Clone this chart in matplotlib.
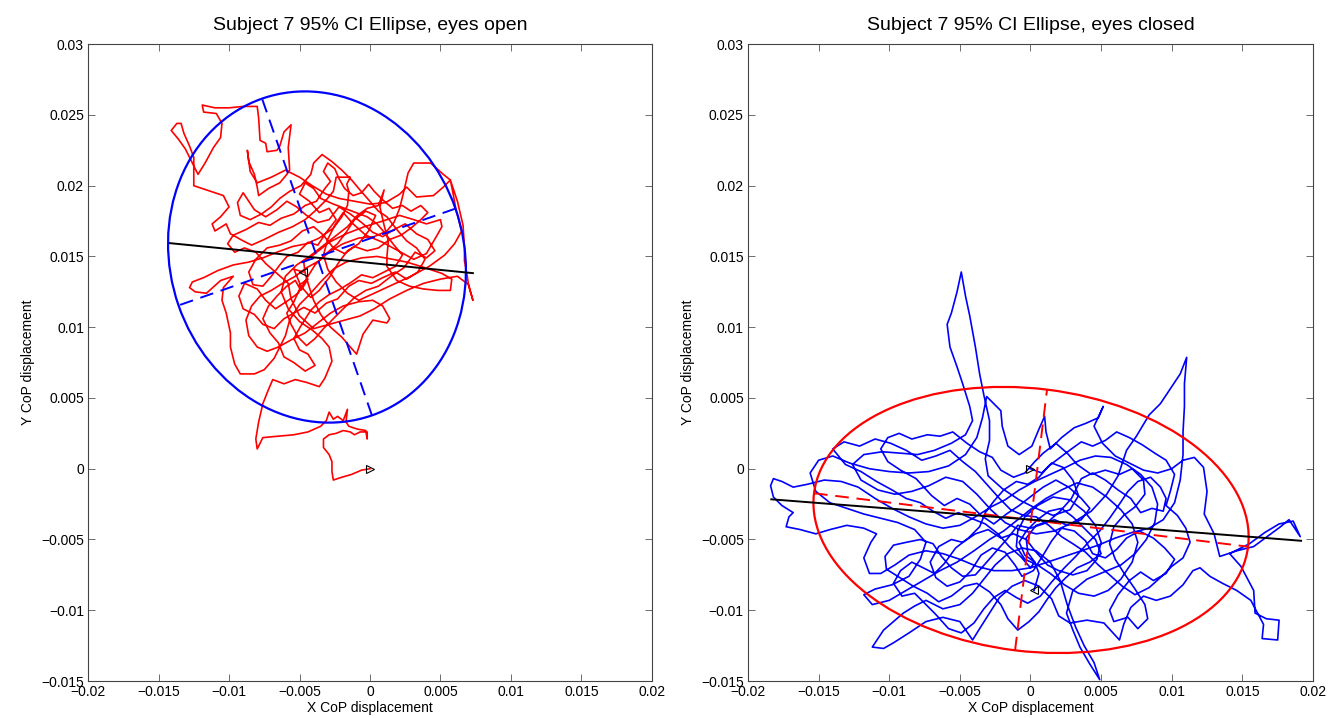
"""
CoP sway paths with 95% CI ellipses, eyes open vs eyes closed.
Values read off the reference figure, kept in mm and plotted in metres.
"""
import numpy as np
import matplotlib
matplotlib.use('Agg')
import matplotlib.pyplot as plt
from matplotlib.patches import Ellipse

plt.rcParams['font.family'] = ['Liberation Sans', 'DejaVu Sans']

MM = 1e-3  # values below are in mm

# ---- eyes open: CoP path (x, y) in mm ----
open_path = [
    (0.0, 0.0), (-0.6, -0.1), (-1.3, -0.4), (-2.0, -0.6), (-2.6, -0.8), (-2.7, -0.2),
    (-2.7, 0.5), (-2.9, 1.0), (-3.3, 1.5), (-3.3, 2.1), (-2.9, 2.4), (-2.4, 2.5),
    (-1.9, 2.7), (-1.4, 2.6), (-1.1, 2.4), (-0.7, 2.6), (-0.2, 2.6), (-0.2, 2.1),
    (-0.3, 2.7), (-0.9, 2.8), (-1.5, 3.0), (-1.7, 3.3), (-1.6, 4.2), (-1.9, 3.4),
    (-2.3, 3.7), (-2.6, 3.5), (-2.9, 4.0), (-3.1, 3.4), (-3.5, 3.0), (-4.4, 2.6),
    (-5.4, 2.4), (-6.5, 2.3), (-7.6, 2.2), (-8.0, 1.4), (-8.1, 2.1), (-7.9, 3.3),
    (-7.6, 4.6), (-7.2, 5.6), (-6.9, 6.3), (-6.1, 6.0), (-5.3, 6.3), (-4.5, 6.1),
    (-3.6, 5.8), (-3.2, 6.4), (-2.7, 7.6), (-2.9, 8.6), (-3.4, 9.2), (-4.1, 9.8),
    (-5.0, 10.4), (-5.8, 11.3), (-6.3, 12.5), (-6.0, 13.6), (-5.2, 14.4), (-4.3, 15.0),
    (-3.4, 15.7), (-2.5, 16.4), (-1.6, 17.1), (-0.9, 17.9), (-0.2, 18.4), (0.6, 18.6),
    (1.0, 19.7), (0.7, 18.5), (1.0, 17.2), (1.3, 16.1), (1.2, 15.0), (1.2, 14.3),
    (1.9, 13.3), (2.8, 12.9), (3.8, 12.7), (4.8, 12.6), (5.7, 12.6), (5.8, 13.4),
    (5.1, 13.8), (4.5, 14.0), (3.6, 14.3), (2.6, 14.6), (1.6, 14.8), (0.5, 15.0),
    (-0.6, 14.9), (-1.7, 14.6), (-2.6, 14.1), (-3.5, 13.2), (-4.3, 12.3), (-5.0, 11.6),
    (-5.7, 10.5), (-6.0, 9.4), (-6.4, 8.6), (-6.8, 7.8), (-7.5, 7.0), (-8.2, 6.7),
    (-9.2, 6.7), (-9.6, 7.4), (-9.9, 8.6), (-9.9, 9.6), (-10.2, 11.0), (-10.5, 11.9),
    (-10.4, 12.8), (-9.7, 13.6), (-10.6, 13.3), (-11.6, 12.4), (-12.4, 12.5), (-12.8, 12.8),
    (-12.6, 13.2), (-11.8, 13.5), (-10.8, 14.0), (-9.7, 14.4), (-8.6, 14.6), (-7.6, 14.9),
    (-6.6, 15.3), (-5.5, 15.7), (-4.5, 15.9), (-3.6, 16.3), (-2.6, 17.0), (-2.0, 17.8),
    (-1.6, 18.6), (-1.5, 19.6), (-1.65, 20.1), (-1.4, 20.6), (-1.8, 20.6), (-2.4, 20.6),
    (-2.6, 19.6), (-3.1, 19.0), (-3.8, 18.3), (-4.6, 17.6), (-5.5, 17.1), (-6.5, 16.7),
    (-7.5, 16.2), (-8.4, 15.8), (-9.0, 16.1), (-9.9, 16.6), (-10.2, 17.3), (-11.0, 16.8),
    (-11.2, 17.3), (-10.6, 17.8), (-10.0, 18.5), (-10.4, 19.3), (-11.6, 19.7), (-12.5, 20.0),
    (-12.5, 21.0), (-12.5, 22.0), (-12.8, 22.8), (-13.2, 23.7), (-13.4, 24.4), (-13.7, 24.4),
    (-14.1, 23.9), (-13.6, 23.3), (-13.1, 22.6), (-12.6, 21.6), (-12.2, 20.8), (-11.7, 21.6),
    (-11.1, 22.7), (-10.6, 23.4), (-10.5, 24.4), (-10.9, 25.1), (-11.8, 25.2), (-11.9, 25.7),
    (-11.0, 25.5), (-10.0, 25.5), (-9.0, 25.6), (-8.0, 25.6), (-7.9, 24.8), (-7.8, 23.2),
    (-7.4, 23.0), (-7.3, 22.4), (-6.6, 22.5), (-6.4, 22.8), (-6.1, 23.8), (-5.6, 24.3),
    (-5.8, 22.7), (-5.7, 21.1), (-5.9, 20.8), (-6.4, 20.2), (-7.2, 19.8), (-7.9, 19.3),
    (-8.0, 19.9), (-8.2, 20.8), (-8.6, 21.7), (-8.7, 22.5), (-8.5, 21.0), (-8.0, 20.2),
    (-7.0, 20.6), (-6.0, 21.1), (-5.0, 20.6), (-4.1, 20.0), (-3.1, 19.4), (-2.2, 19.1),
    (-1.1, 18.9), (0.0, 18.7), (1.1, 18.8), (2.1, 19.4), (2.6, 19.9), (3.3, 19.2),
    (4.5, 19.3), (5.2, 19.9), (5.7, 20.4), (5.2, 20.8), (4.3, 21.6), (3.1, 21.6),
    (2.7, 20.9), (2.4, 19.6), (2.1, 18.4), (1.7, 17.4), (1.2, 16.8), (0.3, 16.4),
    (-0.8, 16.3), (-1.9, 15.9), (-2.8, 15.4), (-3.6, 14.7), (-4.5, 14.2), (-5.3, 13.6),
    (-6.2, 13.1), (-7.0, 12.6), (-7.8, 12.2), (-8.4, 11.5), (-8.8, 10.5), (-8.6, 9.4),
    (-8.0, 8.6), (-7.3, 8.3), (-6.5, 8.6), (-5.6, 9.1), (-4.6, 9.6), (-3.7, 10.3),
    (-2.8, 11.0), (-1.9, 11.5), (-0.8, 11.8), (0.2, 11.9), (0.9, 11.5), (1.4, 10.6),
    (1.2, 10.3), (0.2, 10.5), (-0.5, 9.5), (-0.95, 8.1), (-1.4, 8.6), (-2.0, 9.3),
    (-2.8, 10.0), (-3.5, 10.9), (-4.0, 11.9), (-4.3, 12.8), (-4.6, 13.8), (-4.7, 14.6),
    (-3.9, 15.2), (-2.9, 16.0), (-1.7, 16.6), (-0.4, 17.1), (0.9, 17.5), (2.1, 17.9),
    (3.1, 17.6), (4.0, 17.3), (5.0, 17.6), (5.1, 17.1), (4.7, 16.4), (4.0, 15.2),
    (3.1, 14.8), (2.0, 15.4), (0.9, 16.0), (-0.3, 16.5), (-1.2, 17.3), (-1.9, 18.1),
    (-2.5, 17.2), (-3.0, 16.2), (-3.3, 15.1), (-3.0, 14.1), (-2.4, 13.2), (-1.6, 12.4),
    (-0.8, 11.9), (0.3, 12.4), (1.6, 13.0), (2.9, 13.6), (4.2, 14.3), (5.3, 15.1),
    (6.0, 15.9), (6.5, 16.8), (6.1, 18.3), (5.9, 19.4), (5.7, 20.4), (6.2, 18.9),
    (6.6, 17.2), (6.7, 15.6), (6.7, 14.7), (6.9, 13.6), (7.0, 12.9), (7.3, 11.9),
    (7.0, 13.0), (6.2, 13.6), (5.0, 13.4), (3.8, 13.1), (2.6, 12.6), (1.4, 12.0),
    (0.3, 11.3), (-0.7, 10.8), (-1.8, 10.5), (-2.9, 10.2), (-4.0, 9.9), (-5.0, 10.8),
    (-5.6, 12.0), (-5.8, 13.1), (-6.6, 13.8), (-7.4, 14.5), (-8.1, 15.3), (-8.9, 15.6),
    (-9.6, 15.3), (-10.1, 15.9), (-9.7, 16.5), (-8.8, 16.9), (-7.9, 17.4), (-7.1, 17.2),
    (-6.3, 17.7), (-5.4, 18.0), (-4.6, 18.6), (-3.8, 18.9), (-3.2, 19.8), (-2.8, 20.3),
    (-3.3, 21.0), (-3.0, 21.6), (-2.5, 21.2), (-2.2, 20.5), (-1.8, 19.8), (-1.2, 19.3),
    (-0.6, 19.5), (-0.1, 20.1), (0.3, 19.6), (0.9, 19.0), (1.6, 18.4), (2.3, 18.6),
    (2.9, 18.2), (3.6, 18.6), (4.1, 18.1), (3.6, 17.6), (2.9, 17.0), (2.2, 16.5),
    (1.4, 16.2), (0.6, 15.6), (-0.2, 15.4), (-1.1, 15.7), (-1.8, 15.2), (-2.6, 15.6),
    (-3.3, 16.5), (-4.0, 17.1), (-4.8, 16.8), (-5.6, 16.1), (-6.4, 15.8), (-7.3, 15.6),
    (-8.1, 14.8), (-8.6, 13.9), (-8.3, 13.0), (-7.6, 12.9), (-7.0, 13.6), (-6.4, 14.4),
    (-5.9, 15.0), (-5.1, 15.3), (-4.4, 16.0), (-3.7, 15.8), (-3.1, 16.7), (-2.4, 17.6),
    (-2.9, 18.4), (-3.6, 18.1), (-4.3, 18.9), (-5.0, 19.4), (-4.6, 20.2), (-4.0, 19.8),
    (-3.5, 19.1), (-2.6, 18.7), (-1.8, 18.4), (-1.0, 18.1), (-0.2, 17.8), (0.5, 17.3),
    (1.1, 16.6), (1.7, 15.8), (2.3, 15.1), (1.8, 14.3), (1.0, 13.9), (0.2, 13.5),
    (-0.6, 13.7), (-1.3, 13.2), (-2.1, 12.7), (-2.9, 12.3), (-3.6, 11.8), (-4.2, 11.2),
    (-4.9, 10.1), (-5.4, 9.2), (-5.0, 8.4), (-4.4, 8.1), (-3.9, 7.3), (-4.6, 6.9),
    (-5.4, 7.5), (-6.1, 7.9), (-6.5, 8.9), (-7.1, 9.6), (-7.6, 10.6), (-7.2, 11.5),
    (-6.6, 12.2), (-5.9, 12.9), (-5.3, 13.3), (-4.9, 12.6), (-4.4, 13.4), (-5.0, 13.0),
    (-4.2, 12.1), (-3.6, 12.6), (-2.9, 13.5), (-2.2, 14.6), (-1.6, 15.4), (-0.8, 15.9),
    (-0.1, 16.8), (0.4, 17.9), (-0.3, 18.2), (-1.1, 17.6), (-1.7, 16.7), (-2.3, 15.9),
    (-3.1, 15.2), (-3.9, 14.4), (-4.4, 13.6), (-5.1, 12.4), (-5.8, 11.9), (-6.7, 11.3),
    (-7.4, 11.9), (-8.0, 12.7), (-8.9, 13.1), (-9.3, 12.2), (-9.0, 11.3), (-8.2, 10.9),
    (-7.6, 10.2), (-6.8, 9.9), (-6.1, 10.6), (-5.4, 11.0), (-4.7, 11.4), (-3.9, 11.0),
    (-3.1, 11.7), (-2.3, 12.0), (-1.5, 12.9), (-0.8, 13.3), (0.1, 13.1), (0.9, 13.5),
    (1.8, 13.9), (2.6, 13.4), (3.4, 13.9), (3.9, 14.8), (3.3, 15.6), (2.6, 16.1),
    (1.9, 16.9), (1.2, 17.8), (0.6, 18.2), (-0.1, 19.0), (-0.8, 19.8), (-1.3, 20.4),
    (-2.0, 21.1), (-2.7, 21.7), (-3.4, 22.2), (-4.0, 21.6), (-4.2, 20.8), (-4.9, 20.0),
    (-5.7, 19.6), (-6.4, 19.1), (-7.0, 18.5), (-7.7, 18.0), (-8.5, 17.6), (-9.2, 17.9),
    (-9.4, 18.8), (-9.0, 19.5), (-8.6, 18.9), (-8.2, 18.3), (-7.4, 17.8), (-6.6, 18.3),
    (-5.9, 18.9), (-5.2, 18.5), (-4.5, 17.9), (-3.7, 17.4), (-2.9, 17.6), (-2.2, 18.5),
    (-1.4, 18.0), (-0.6, 17.4), (0.2, 16.7), (0.9, 16.4), (1.7, 16.9), (2.5, 17.3),
    (3.3, 16.6), (4.1, 16.2), (4.6, 15.4), (4.0, 14.9), (3.2, 15.3), (2.4, 14.2),
    (1.5, 13.6), (0.6, 12.9), (-0.3, 12.6), (-1.1, 12.1), (-1.9, 11.3), (-2.6, 10.6),
    (-3.3, 9.9), (-3.9, 9.2), (-4.5, 8.7), (-5.1, 9.3), (-5.6, 10.2), (-5.9, 11.0),
    (-5.4, 11.8), (-4.9, 12.9), (-5.4, 14.1), (-4.75, 13.9),
]

# ---- eyes closed: CoP path (x, y) in mm ----
closed_path = [
    (0.0, 0.0), (0.8, -0.3), (1.5, 0.4), (2.3, 0.1), (3.0, -0.8), (3.4, -1.9),
    (2.8, -2.9), (1.6, -3.3), (0.4, -2.8), (-0.8, -2.2), (-2.0, -1.4), (-3.0, -0.5),
    (-3.2, 0.7), (-2.9, 2.0), (-2.9, 3.4), (-3.3, 5.2), (-3.6, 6.7), (-3.9, 8.6),
    (-4.3, 10.8), (-4.6, 12.2), (-4.9, 13.9), (-5.2, 12.5), (-5.6, 11.0), (-5.9, 10.2),
    (-5.7, 8.6), (-5.2, 7.2), (-4.8, 6.0), (-4.3, 4.4), (-4.1, 3.4), (-4.6, 2.4),
    (-5.6, 1.8), (-6.8, 1.3), (-8.0, 1.0), (-9.2, 1.1), (-10.5, 1.2), (-11.8, 1.0),
    (-12.6, 0.3), (-12.0, -0.8), (-10.8, -1.5), (-9.6, -1.8), (-8.4, -1.6), (-7.2, -1.2),
    (-6.0, -0.6), (-4.8, -0.9), (-3.8, -1.8), (-2.8, -2.9), (-1.8, -3.8), (-0.8, -4.3),
    (0.4, -4.6), (1.7, -4.4), (3.0, -3.8), (4.3, -3.0), (5.4, -1.8), (6.2, -0.5),
    (6.8, 1.3), (7.5, 2.3), (8.4, 3.8), (9.2, 4.6), (9.8, 5.5), (10.6, 6.7),
    (11.06, 7.87), (10.9, 6.0), (10.9, 4.4), (10.8, 2.6), (10.8, 1.0), (10.6, -0.8),
    (10.2, -2.4), (9.4, -3.6), (8.4, -4.2), (7.2, -4.5), (6.0, -4.9), (4.8, -5.4),
    (3.6, -5.8), (2.4, -6.2), (1.2, -6.6), (0.0, -7.0), (-1.3, -7.2), (-2.6, -7.2),
    (-3.8, -6.9), (-5.0, -6.4), (-6.2, -6.0), (-7.4, -5.8), (-8.6, -6.1), (-9.6, -6.8),
    (-10.6, -7.4), (-11.4, -7.4), (-11.8, -6.3), (-11.3, -5.2), (-10.9, -4.6), (-11.8, -4.2),
    (-13.0, -4.0), (-14.2, -4.3), (-15.2, -4.6), (-16.3, -4.3), (-17.3, -4.1), (-17.1, -3.4),
    (-16.8, -3.1), (-17.6, -2.6), (-18.2, -2.0), (-18.4, -1.2), (-18.2, -0.7), (-17.6, -0.9),
    (-16.8, -1.3), (-15.8, -1.1), (-14.6, -0.8), (-13.4, -0.9), (-12.2, -1.3), (-11.0, -2.1),
    (-9.8, -2.8), (-8.6, -3.4), (-7.4, -3.9), (-6.2, -4.2), (-5.0, -4.0), (-3.9, -3.4),
    (-2.8, -2.7), (-1.8, -2.2), (-0.8, -1.5), (0.3, -0.9), (1.4, -0.4), (2.5, 0.1),
    (3.5, 0.6), (4.6, 0.9), (5.7, 0.8), (6.8, 0.3), (7.8, -0.4), (8.6, -1.3),
    (9.0, -2.5), (8.8, -3.8), (8.2, -5.0), (7.4, -6.0), (6.4, -6.8), (5.2, -7.3),
    (4.0, -7.8), (3.0, -8.6), (2.55, -10.2), (3.0, -11.4), (3.5, -12.6), (4.2, -13.8),
    (4.9, -14.9), (4.5, -13.7), (3.8, -12.5), (3.2, -11.2), (2.6, -9.6), (2.1, -7.9),
    (1.4, -6.6), (0.4, -5.8), (-0.6, -5.6), (-1.6, -6.0), (-2.5, -6.8), (-3.3, -7.8),
    (-4.1, -8.8), (-5.0, -9.6), (-6.2, -9.9), (-7.4, -9.3), (-8.2, -9.7), (-9.0, -10.2),
    (-10.4, -11.4), (-11.2, -12.6), (-10.4, -12.7), (-9.7, -12.3), (-8.6, -11.6), (-7.4, -10.8),
    (-6.2, -10.5), (-5.0, -10.8), (-4.1, -12.1), (-3.6, -11.3), (-2.9, -10.2), (-2.2, -9.1),
    (-1.3, -8.3), (-0.4, -7.9), (0.6, -8.3), (1.5, -9.2), (2.0, -10.4), (2.8, -10.9),
    (4.0, -10.7), (5.2, -10.9), (6.3, -12.1), (6.6, -11.0), (7.1, -9.8), (8.0, -9.0),
    (8.9, -9.3), (9.9, -9.0), (10.8, -8.2), (11.5, -7.2), (12.0, -7.0), (12.7, -7.6),
    (13.6, -8.1), (14.6, -8.6), (15.6, -9.3), (16.5, -11.0), (16.4, -12.0), (17.5, -12.1),
    (17.6, -10.7), (16.7, -10.6), (15.9, -10.2), (15.8, -8.6), (14.9, -6.9), (14.1, -6.0),
    (15.5, -5.3), (16.6, -4.5), (17.6, -3.9), (18.6, -3.7), (19.1, -4.8), (18.3, -3.6),
    (17.7, -4.1), (16.75, -4.8), (15.8, -5.5), (14.6, -5.8), (13.4, -6.2), (13.0, -4.6),
    (12.3, -3.2), (12.5, -1.6), (12.25, 0.1), (11.6, 0.8), (10.8, 0.6), (10.0, 0.0),
    (9.0, -0.3), (8.0, -0.1), (7.0, 0.4), (6.0, 0.9), (5.1, 1.8), (4.5, 3.0),
    (5.15, 4.4), (4.8, 3.6), (3.9, 3.2), (3.1, 2.9), (2.2, 2.2), (1.4, 1.4),
    (1.1, 2.6), (1.0, 3.7), (0.6, 2.8), (0.1, 1.6), (-0.8, 1.0), (-1.6, 1.6),
    (-2.0, 3.0), (-2.1, 4.1), (-2.6, 4.6), (-3.1, 5.1), (-3.4, 3.6), (-3.8, 2.2),
    (-4.6, 1.0), (-5.8, 0.2), (-7.2, -0.2), (-8.6, -0.3), (-10.0, -0.2), (-11.4, 0.0),
    (-12.8, 0.4), (-14.0, 0.9), (-15.0, 0.6), (-15.6, -0.3), (-15.2, -1.6), (-14.2, -2.4),
    (-13.0, -2.8), (-11.8, -3.2), (-10.6, -3.5), (-9.4, -3.8), (-8.2, -4.3), (-7.4, -5.2),
    (-7.8, -6.4), (-8.6, -7.6), (-9.8, -8.2), (-11.0, -8.5), (-11.8, -8.9), (-11.2, -9.6),
    (-10.0, -9.3), (-8.8, -8.6), (-7.6, -7.9), (-6.4, -7.2), (-5.2, -6.6), (-4.0, -5.8),
    (-2.9, -5.0), (-1.9, -4.4), (-0.9, -3.6), (0.1, -2.8), (1.1, -2.1), (2.2, -1.5),
    (3.3, -1.0), (4.4, -1.3), (5.4, -2.0), (6.4, -2.9), (7.2, -3.9), (7.6, -5.2),
    (7.2, -6.6), (6.4, -7.8), (5.5, -8.6), (4.5, -9.0), (3.4, -8.8), (2.4, -8.2),
    (1.4, -7.4), (0.5, -6.8), (-0.4, -6.4), (-1.0, -5.5), (-0.9, -4.4), (-0.4, -3.4),
    (0.5, -2.6), (1.6, -2.0), (2.8, -2.2), (3.8, -3.0), (4.6, -4.0), (5.0, -5.2),
    (4.7, -6.4), (4.0, -7.2), (3.0, -7.5), (2.0, -7.2), (1.2, -6.8), (0.4, -5.9),
    (-0.3, -5.0), (-1.2, -4.6), (-2.1, -4.9), (-3.0, -4.3), (-3.9, -4.6), (-4.8, -5.2),
    (-5.6, -5.0), (-6.5, -5.5), (-7.1, -6.6), (-6.7, -7.7), (-5.9, -8.3), (-5.0, -8.0),
    (-4.2, -7.2), (-3.5, -6.1), (-2.7, -5.6), (-1.8, -5.9), (-1.1, -6.8), (-0.6, -7.6),
    (0.2, -7.2), (0.9, -6.1), (1.5, -5.1), (2.2, -4.2), (3.1, -4.4), (3.9, -5.1),
    (4.4, -6.0), (5.3, -6.3), (6.1, -5.7), (6.8, -4.9), (7.7, -4.4), (8.7, -4.9),
    (9.5, -5.6), (10.2, -6.4), (9.6, -7.4), (8.7, -7.9), (7.8, -7.3), (7.0, -7.9),
    (6.2, -8.9), (5.6, -10.0), (5.9, -10.8), (6.9, -10.5), (7.6, -11.3), (8.3, -10.6),
    (8.1, -9.6), (7.4, -8.5), (6.7, -7.5), (6.0, -6.4), (5.6, -5.3), (5.9, -4.1),
    (6.6, -3.3), (7.4, -2.7), (8.1, -1.8), (8.0, -0.8), (7.2, 0.0), (6.3, -0.4),
    (5.3, -0.1), (4.3, -0.4), (3.3, 0.3), (2.6, 1.1), (1.8, 1.8), (0.9, 1.1),
    (0.3, 0.5), (-0.4, -0.3), (-1.2, -0.6), (-2.1, -0.1), (-2.7, 0.8), (-3.6, 1.2),
    (-4.5, 1.8), (-5.5, 2.6), (-6.4, 2.3), (-7.3, 2.4), (-8.4, 2.1), (-9.3, 2.5),
    (-10.1, 2.2), (-10.6, 1.4), (-10.1, 0.5), (-9.2, -0.1), (-8.1, -0.7), (-7.0, -1.9),
    (-6.1, -2.6), (-5.2, -2.1), (-4.3, -2.5), (-3.5, -3.3), (-2.6, -3.9), (-1.7, -3.2),
    (-0.8, -2.6), (0.1, -1.9), (0.9, -1.3), (1.8, -0.8), (2.7, -1.3), (3.6, -2.1),
    (4.2, -2.8), (3.6, -3.6), (2.6, -4.0), (1.7, -3.6), (0.9, -3.9), (0.0, -4.2),
    (-0.9, -4.0), (-1.6, -4.9), (-2.4, -5.8), (-3.1, -6.6), (-3.9, -7.5), (-4.8, -7.6),
    (-5.6, -7.0), (-6.3, -6.2), (-6.9, -5.3), (-7.8, -5.0), (-8.8, -5.2), (-9.7, -5.4),
    (-10.3, -6.2), (-10.2, -7.1), (-9.4, -7.6), (-8.3, -8.3), (-7.3, -8.8), (-6.5, -9.4),
    (-5.6, -9.0), (-4.7, -8.3), (-3.8, -8.1), (-2.9, -8.7), (-2.1, -9.6), (-1.6, -10.6),
    (-0.9, -11.4), (-0.1, -10.8), (0.6, -10.1), (1.2, -9.2), (1.8, -8.4), (2.5, -7.7),
    (3.3, -7.0), (4.2, -6.6), (5.0, -6.0), (4.6, -5.0), (3.9, -4.3), (3.0, -3.4),
    (2.2, -2.8), (1.3, -3.0), (0.5, -3.6), (-0.3, -4.4), (-0.8, -5.2), (-0.4, -6.1),
    (0.3, -6.6), (0.0, -7.0), (-0.7, -6.2), (-1.5, -5.5), (-2.3, -4.6), (-3.2, -3.9),
    (-4.2, -3.5), (-5.1, -3.1), (-6.0, -3.5), (-6.9, -3.0), (-7.8, -2.4), (-8.8, -2.1),
    (-9.8, -1.5), (-10.9, -0.9), (-12.0, -0.2), (-13.1, 0.3), (-14.0, 1.4), (-13.2, 1.9),
    (-12.1, 1.6), (-11.0, 2.1), (-9.9, 1.8), (-8.8, 1.3), (-7.7, 0.6), (-6.7, 0.9),
    (-5.7, 1.3), (-4.8, 0.5), (-3.9, -0.2), (-3.0, -1.2), (-2.2, -2.1), (-1.4, -2.9),
    (-0.5, -3.3), (0.4, -3.4), (1.3, -4.0), (2.2, -4.8), (3.0, -5.3), (3.9, -5.9),
    (4.8, -6.8), (5.6, -7.5), (6.5, -8.3), (7.4, -8.9), (8.4, -8.4), (9.3, -7.6),
    (10.0, -6.9), (10.8, -6.3), (11.3, -5.2), (11.0, -4.2), (10.4, -3.3), (9.6, -2.6),
    (9.9, -1.6), (10.2, -0.4), (9.6, 0.6), (8.8, 1.1), (7.9, 1.7), (7.0, 2.2),
    (6.1, 2.6), (5.3, 2.0), (4.4, 1.6), (3.6, 1.9), (2.9, 1.4), (2.1, 0.8),
    (1.3, 0.2), (0.6, -0.6), (-0.2, -1.1), (-1.0, -0.9), (-1.9, -1.5), (-2.6, -2.3),
    (-3.2, -3.1), (-3.6, -4.1), (-4.4, -4.9), (-5.3, -5.6), (-6.1, -6.7), (-6.8, -7.4),
    (-7.6, -7.0), (-8.4, -6.6), (-9.2, -7.2), (-9.7, -8.1), (-9.1, -9.0), (-8.2, -8.8),
    (-7.4, -9.6), (-6.7, -10.3), (-5.8, -11.3), (-4.9, -11.6), (-4.0, -10.9), (-3.3, -9.9),
    (-2.6, -9.1), (-1.8, -8.6), (-1.0, -9.1), (-0.2, -9.5), (0.7, -9.0), (1.5, -8.0),
    (2.4, -7.0), (3.2, -6.2), (4.1, -5.2), (4.9, -4.4), (5.6, -3.5), (6.3, -2.5),
    (6.9, -1.6), (7.6, -0.9), (8.5, -0.6), (9.2, -1.3), (9.6, -2.1), (9.4, -3.0),
    (8.6, -2.8), (7.8, -3.1), (7.1, -2.1), (6.2, -1.5), (5.3, -0.8), (4.4, -0.3),
    (3.6, -0.7), (2.9, -2.1), (2.1, -3.0), (1.3, -3.7), (0.4, -4.0), (-0.3, -4.9),
    (-0.2, -5.9), (0.3, -6.6), (0.6, -7.4), (0.25, -8.6),
]

# 95% CI ellipses (mm, degrees)
open_centre = (-3.76, 14.96)
open_semi_axes = (11.85, 10.4)
open_angle = 109.2
closed_centre = (0.04, -3.62)
closed_semi_axes = (15.48, 9.28)
closed_angle = -7.0

# least-squares lines, end points (mm)
open_fit_x = [-14.2, 7.3]
open_fit_y = [15.94, 13.82]
closed_fit_x = [-18.35, 19.16]
closed_fit_y = [-2.16, -5.09]

x_ticks = [-0.02, -0.015, -0.01, -0.005, 0, 0.005, 0.01, 0.015, 0.02]
y_ticks = [-0.015, -0.01, -0.005, 0, 0.005, 0.01, 0.015, 0.02, 0.025, 0.03]


def tick_text(v):
    return f"{v:g}".replace('-', '\u2212')


def draw_panel(ax, path, centre, semi, angle, fit_x, fit_y, path_col, ell_col, title):
    pts = np.array(path) * MM
    ax.plot(pts[:, 0], pts[:, 1], color=path_col, lw=1.2, zorder=2)

    cx, cy = centre[0] * MM, centre[1] * MM
    a, b = semi[0] * MM, semi[1] * MM
    ell = Ellipse((cx, cy), 2 * a, 2 * b, angle=angle, fill=False,
                  edgecolor=ell_col, lw=1.6, zorder=3)
    ax.add_patch(ell)

    # principal axes of the ellipse, dashed
    t = np.deg2rad(angle)
    for r, th in ((a, t), (b, t + np.pi / 2)):
        dx, dy = r * np.cos(th), r * np.sin(th)
        ax.plot([cx - dx, cx + dx], [cy - dy, cy + dy], color=ell_col,
                lw=1.4, dashes=(7, 4), zorder=3)

    ax.plot(np.array(fit_x) * MM, np.array(fit_y) * MM, color='black', lw=1.4, zorder=4)

    # start / end markers
    ax.plot(pts[0, 0], pts[0, 1], marker='>', ms=6, mfc='none', mec='black',
            mew=0.8, zorder=5)
    ax.plot(pts[-1, 0], pts[-1, 1], marker='<', ms=6, mfc='none', mec='black',
            mew=0.8, zorder=5)

    ax.set_xlim(-0.02, 0.02)
    ax.set_ylim(-0.015, 0.03)
    ax.set_xticks(x_ticks)
    ax.set_xticklabels([tick_text(v) for v in x_ticks])
    ax.set_yticks(y_ticks)
    ax.set_yticklabels([tick_text(v) for v in y_ticks])
    ax.tick_params(direction='in', top=True, right=True, length=5, width=0.6,
                   labelsize=10, pad=3, color='#555555')
    for s in ax.spines.values():
        s.set_linewidth(0.8)
        s.set_color('#444444')
    ax.set_xlabel('X CoP displacement', fontsize=10, labelpad=1)
    ax.set_ylabel('Y CoP displacement', fontsize=10, labelpad=4)
    ax.set_title(title, fontsize=14, pad=10)


fig = plt.figure(figsize=(13.3, 7.18), dpi=100)
ax1 = fig.add_axes([0.0662, 0.0515, 0.424, 0.887])
ax2 = fig.add_axes([0.5624, 0.0515, 0.4248, 0.887])

draw_panel(ax1, open_path, open_centre, open_semi_axes, open_angle,
           open_fit_x, open_fit_y, 'red', 'blue',
           'Subject 7 95% CI Ellipse, eyes open')
draw_panel(ax2, closed_path, closed_centre, closed_semi_axes, closed_angle,
           closed_fit_x, closed_fit_y, 'blue', 'red',
           'Subject 7 95% CI Ellipse, eyes closed')

fig.savefig('out.png', dpi=100)
